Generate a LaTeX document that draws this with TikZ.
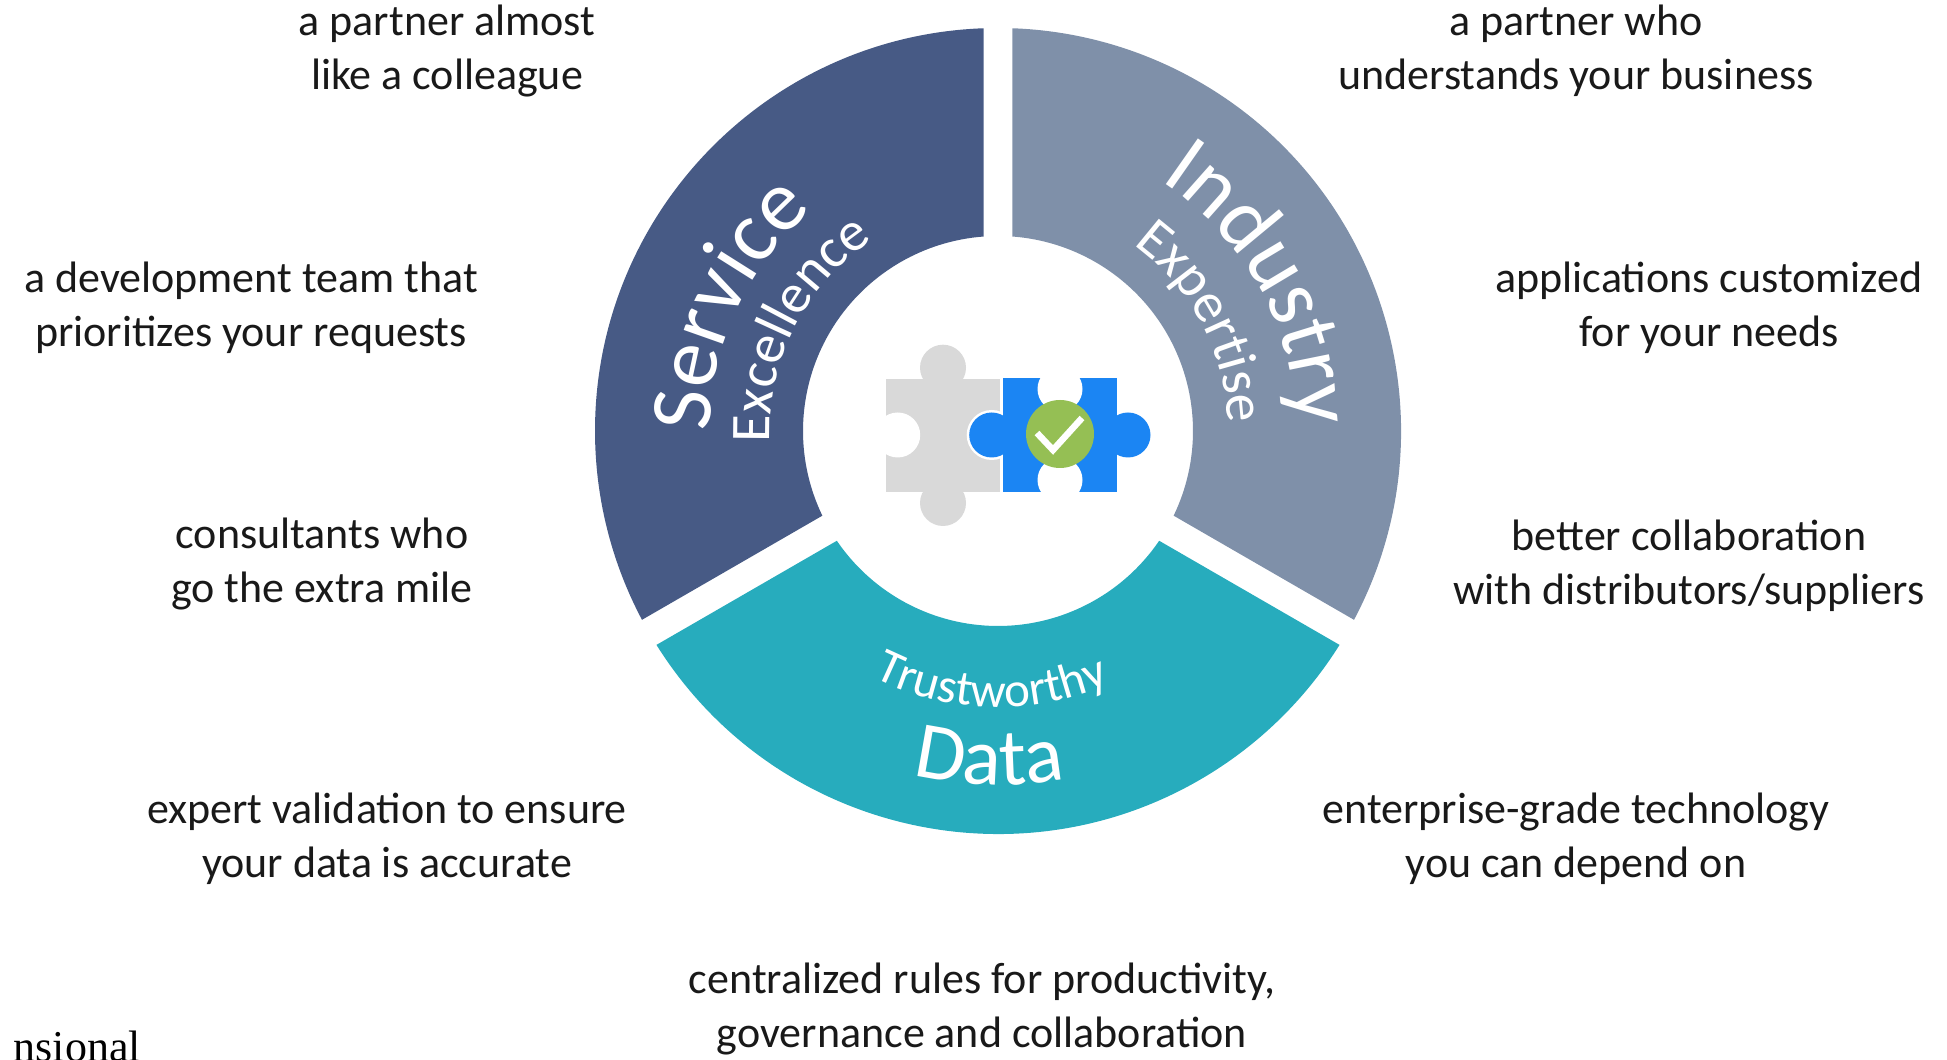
\documentclass[tikz,border=0pt]{standalone}
\usepackage{fontspec}
\setmainfont{Carlito}
\newfontfamily\serifpart{Liberation Serif}
\usetikzlibrary{decorations.text}

\newcommand{\bigword}{\fontsize{87}{87}\selectfont\color{white}}
\newcommand{\midword}{\fontsize{56}{56}\selectfont\color{white}}
\newcommand{\smallword}{\fontsize{49}{49}\selectfont\color{white}}
\newcommand{\dataword}{\fontsize{81}{81}\selectfont\color{white}}

\begin{document}
\begin{tikzpicture}[x=1pt,y=1pt]

\definecolor{servicecol}{HTML}{475A85}
\definecolor{industrycol}{HTML}{7F90A9}
\definecolor{datacol}{HTML}{27ACBD}
\definecolor{bluecol}{HTML}{1B85F3}
\definecolor{greycol}{HTML}{D9D9D9}
\definecolor{greencol}{HTML}{95BF54}

\tikzstyle{label}=[align=center, text=black!90, font=\fontsize{44}{53.6}\selectfont]
\tikzstyle{curved}=[decorate]

\useasboundingbox (0,0) rectangle (1947,1060);

\begin{scope}[shift={(998,629)}]
\fill[servicecol] (92.06:403) arc (92.06:207.94:403) -- (205.74:195) arc (205.74:94.26:195) -- cycle;
\fill[datacol] (212.06:403) arc (212.06:327.94:403) -- (325.74:195) arc (325.74:214.26:195) -- cycle;
\fill[industrycol] (-27.94:403) arc (-27.94:87.94:403) -- (85.74:195) arc (85.74:-25.74:195) -- cycle;

\path[curved, decoration={text along path, text align=center, text={|\bigword|Service}}]
  (195:288) arc (195:115:288);
\path[curved, decoration={text along path, text align=center, text={|\midword|Excellence}}]
  (193:228) arc (193:113:228);
\path[curved, decoration={text along path, text align=center, text={|\bigword|Industry}}]
  (69:298) arc (69:-11:298);
\path[curved, decoration={text along path, text align=center, text={|\midword|Expertise}}]
  (68:230) arc (68:-12:230);
\path[curved, decoration={text along path, text align=center, text={|\smallword|Trustworthy}}]
  (228:276) arc (228:309:276);
\path[curved, decoration={text along path, text align=center, text={|\dataword|Data}}]
  (248:354) arc (248:289:354);
\end{scope}

% puzzle
\fill[greycol] (886,568) rectangle (1000,681);
\fill[greycol] (943,692.3) circle (23);
\fill[greycol] (943,557) circle (23);
\fill[white] (897.7,625) circle (22.5);
\fill[white] (991.7,625) circle (25);
\fill[bluecol] (1003,568) rectangle (1117,682);
\fill[bluecol] (991.7,625) circle (22.5);
\fill[bluecol] (1128,625) circle (22.5);
\fill[white] (1060,671) circle (22.5);
\fill[white] (1060,580) circle (22.5);
\node[circle, fill=greencol, minimum size=68pt, inner sep=0pt] (checkdot) at (1060,626) {};
\draw[white, line width=6.5pt] (1037,627) -- (1053,610) -- (1082,642);

\node[label] (colleague) at (447,1009) {a partner almost\\like a colleague};
\node[label] (business) at (1576,1009) {a partner who\\understands your business};
\node[label] (requests) at (251,752) {a development team that\\prioritizes your requests};
\node[label] (needs) at (1709,752) {applications customized\\for your needs};
\node[label] (mile) at (322,496) {consultants who\\go the extra mile};
\node[label] (suppliers) at (1689,494) {better collaboration\\with distributors/suppliers};
\node[label] (accurate) at (387,221) {expert validation to ensure\\your data is accurate};
\node[label] (depend) at (1576,221) {enterprise-grade technology\\you can depend on};
\node[label] (governance) at (982,51) {centralized rules for productivity,\\governance and collaboration};

\node[anchor=base east, inner sep=0pt, font=\serifpart\fontsize{44}{44}\selectfont] (leftover) at (141,-2) {nsional};

\end{tikzpicture}
\end{document}
